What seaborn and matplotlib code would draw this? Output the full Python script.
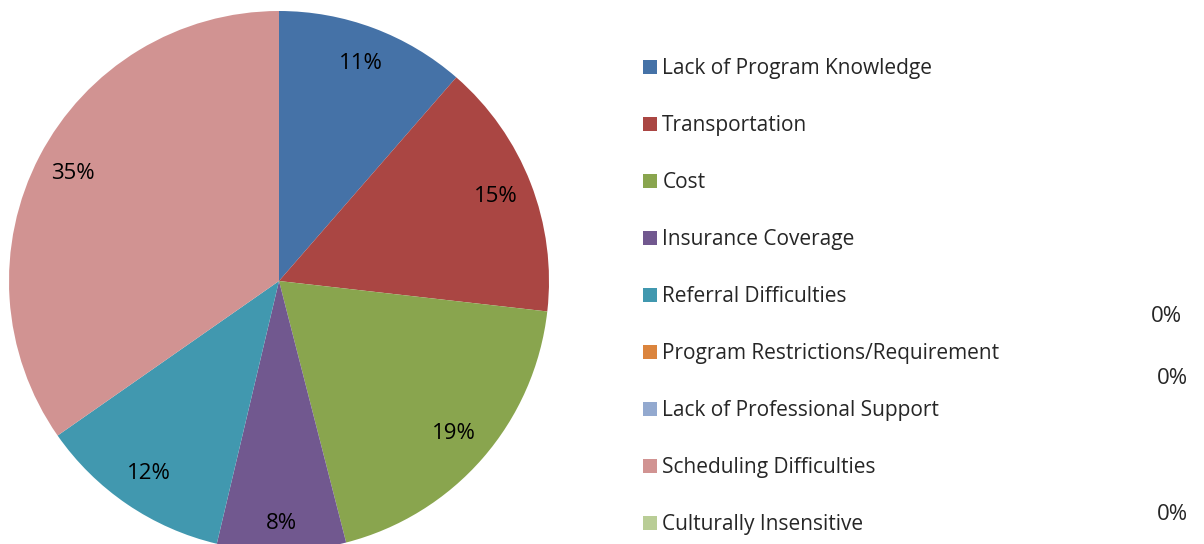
import matplotlib
matplotlib.use("Agg")
import matplotlib.pyplot as plt
import seaborn as sns
import numpy as np

categories = ["Lack of Program Knowledge", "Transportation", "Cost", "Insurance Coverage",
              "Referral Difficulties", "Program Restrictions/Requirement",
              "Lack of Professional Support", "Scheduling Difficulties", "Culturally Insensitive"]
shares = [11.4, 15.4, 19.2, 7.7, 11.6, 0, 0, 34.7, 0]
colors = ["#4572A7", "#AA4643", "#89A54E", "#71588F", "#4198AF",
          "#DB843D", "#93A9CF", "#D19392", "#B9CD96"]
zero_labels = ["0%", "0%", "0%"]

sns.set_theme(style="white")
plt.rcParams["font.family"] = ["Open Sans", "DejaVu Sans"]

W, H = 1204, 544
fig = plt.figure(figsize=(W / 100, H / 100), dpi=100)
cx, cy, r = 279, 281, 270
ax = fig.add_axes([(cx - r) / W, (H - cy - r) / H, 2 * r / W, 2 * r / H])

wedges, texts, autotexts = ax.pie(
    shares, colors=colors, startangle=90, counterclock=False, radius=1,
    autopct=lambda p: f"{p:.0f}%" if p > 0 else "", pctdistance=0.86,
    textprops=dict(fontsize=16, color="black"), wedgeprops=dict(linewidth=0))
ax.set_xlim(-1, 1)
ax.set_ylim(-1, 1)
ax.set_aspect("equal")
ax.axis("off")

# small label placement tweak for the narrow bottom slice
x, y = autotexts[3].get_position()
k = 0.9 / 0.86
autotexts[3].set_position((x * k, y * k))

fig.legend(wedges, categories, loc="upper left", bbox_to_anchor=(643 / W, 1 - 58 / H),
           frameon=False, fontsize=15, handlelength=0.67, handleheight=0.65,
           handletextpad=0.26, labelspacing=1.73, borderpad=0, borderaxespad=0)

for (x, y), t in zip([(1166, 316), (1172, 379), (1172, 514)], zero_labels):
    fig.text(x / W, 1 - y / H, t, ha="center", va="center", fontsize=16)

fig.savefig("out.png", dpi=100)
